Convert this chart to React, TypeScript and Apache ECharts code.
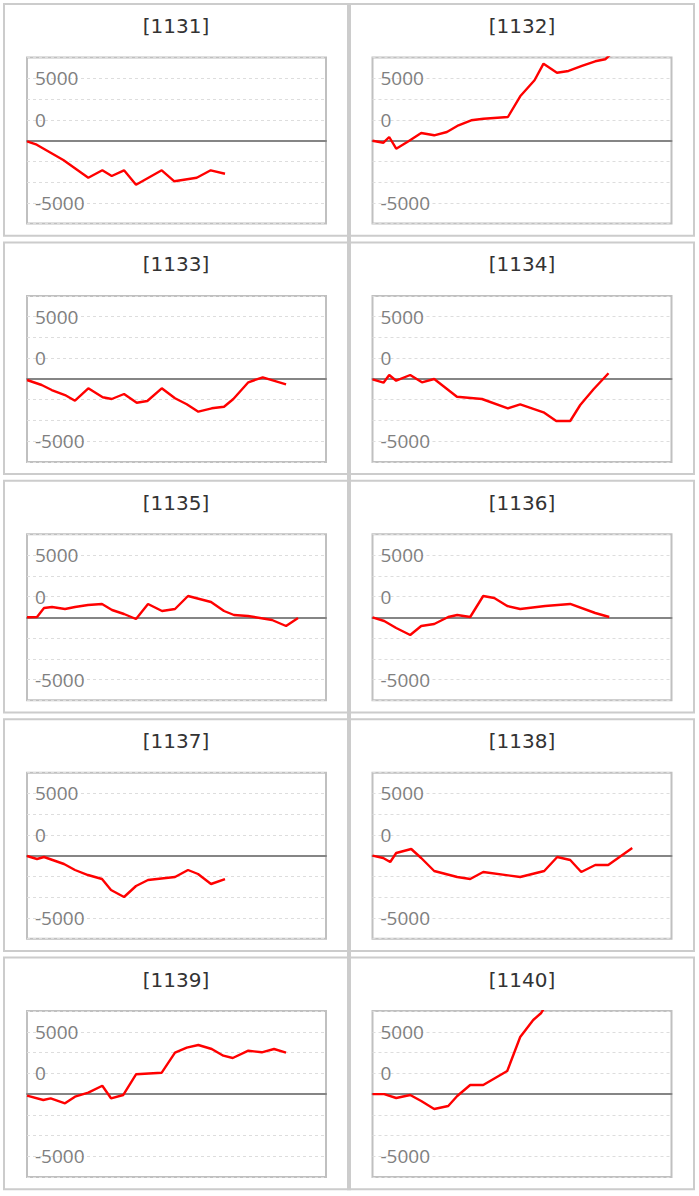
import React, { useEffect, useRef } from "react";
import * as echarts from "echarts";

// machine numbers (panel titles)
const machines = ["1131", "1132", "1133", "1134", "1135", "1136", "1137", "1138", "1139", "1140"];

// y-axis tick labels as printed on the chart, and the gridline they sit on
const yTickValues = [7500, 2500, -7500];
const yTickLabels = ["5000", "0", "-5000"];

// [games, coin difference]
const s1131 = [[0, -100], [260, -506], [971, -2350], [1640, -4483], [2015, -3591], [2267, -4278], [2596, -3591], [2917, -5326], [3605, -3591], [3942, -4916], [4541, -4483], [4916, -3591], [5298, -4001]];
const s1132 = [[0, -24], [294, -265], [447, 422], [634, -988], [963, -96], [1303, 904], [1651, 627], [1991, 1024], [2301, 1832], [2641, 2434], [2970, 2627], [3623, 2832], [3952, 5326], [4335, 7254], [4576, 9254], [4935, 8170], [5245, 8375], [5603, 8977], [5959, 9544], [6227, 9785], [6400, 10500]];
const s1133 = [[0, -133], [393, -735], [661, -1338], [1017, -1940], [1284, -2627], [1640, -1133], [2026, -2217], [2267, -2422], [2596, -1820], [2936, -2868], [3219, -2663], [3605, -1133], [3960, -2338], [4274, -3061], [4584, -3952], [4943, -3543], [5272, -3350], [5521, -2422], [5922, -410], [6307, 193], [6931, -651]];
const s1134 = [[0, -48], [294, -458], [447, 470], [634, -217], [1009, 470], [1322, -410], [1651, -12], [2259, -2145], [2928, -2422], [3623, -3543], [3952, -3061], [4576, -4025], [4916, -5073], [5290, -5073], [5558, -3145], [5914, -1253], [6315, 675]];
const s1135 = [[0, 0], [268, 36], [455, 1121], [669, 1241], [1017, 1000], [1284, 1241], [1632, 1482], [2007, 1603], [2275, 880], [2596, 398], [2917, -205], [3238, 1603], [3613, 759], [3960, 1000], [4308, 2567], [4924, 1844], [5272, 759], [5539, 277], [5914, 157], [6556, -325], [6931, -1048], [7252, -84]];
const s1136 = [[0, 0], [313, -446], [634, -1289], [1009, -2133], [1303, -1048], [1651, -807], [2026, 36], [2267, 277], [2614, 36], [2962, 2567], [3257, 2326], [3605, 1362], [3952, 1000], [4621, 1362], [5290, 1603], [5959, 518], [6334, 36]];
const s1137 = [[0, -36], [268, -398], [455, -157], [990, -1000], [1284, -1723], [1632, -2326], [2007, -2808], [2248, -4133], [2596, -4977], [2917, -3651], [3238, -2928], [3960, -2567], [4308, -1723], [4576, -2205], [4924, -3410], [5298, -2808]];
const s1138 = [[0, 0], [286, -277], [474, -759], [634, 325], [1036, 807], [1303, -277], [1651, -1844], [2267, -2567], [2614, -2808], [2962, -1964], [3952, -2567], [4595, -1844], [4943, -157], [5290, -518], [5585, -1964], [5959, -1121], [6307, -1121], [6950, 928]];
const s1139 = [[0, -193], [436, -711], [634, -506], [1017, -1109], [1284, -313], [1640, 169], [2015, 1012], [2248, -506], [2577, -108], [2917, 2386], [3605, 2579], [3960, 4989], [4274, 5591], [4584, 5917], [4943, 5435], [5253, 4627], [5505, 4350], [5922, 5230], [6281, 5037], [6610, 5435], [6931, 4989]];
const s1140 = [[0, 0], [313, 0], [634, -470], [1009, -108], [1303, -831], [1651, -1795], [2026, -1434], [2267, -229], [2614, 1097], [2962, 1097], [3605, 2784], [3952, 6881], [4300, 8929], [4514, 9773], [4650, 10800]];

const seriesData = [s1131, s1132, s1133, s1134, s1135, s1136, s1137, s1138, s1139, s1140];

const X_MIN = 0;
const X_MAX = 8000;
const Y_MIN = -10000;
const Y_MAX = 10000;
const Y_INTERVAL = 2500;

export default function App() {
  const ref = useRef<HTMLDivElement>(null);

  useEffect(() => {
    if (!ref.current) return;
    const chart = echarts.init(ref.current, null, { renderer: "svg" });

    const colX = [27, 372.5];
    const boxX = [4, 350];
    const rowPitch = 238.4;

    const grids: any[] = [];
    const xAxes: any[] = [];
    const yAxes: any[] = [];
    const series: any[] = [];
    const titles: any[] = [];
    const graphics: any[] = [];

    machines.forEach((m, i) => {
      const c = i % 2;
      const r = Math.floor(i / 2);
      grids.push({
        left: colX[c],
        top: 57.5 + r * rowPitch,
        width: 299,
        height: 166,
        show: true,
        borderColor: "#c0c0c0",
        borderWidth: 2,
        backgroundColor: "transparent",
        containLabel: false,
      });
      xAxes.push({
        type: "value",
        gridIndex: i,
        min: X_MIN,
        max: X_MAX,
        axisLine: { show: true, onZero: true, lineStyle: { color: "#858585", width: 2 } },
        axisTick: { show: false },
        axisLabel: { show: false },
        splitLine: { show: false },
      });
      yAxes.push({
        type: "value",
        gridIndex: i,
        min: Y_MIN,
        max: Y_MAX,
        interval: Y_INTERVAL,
        axisLine: { show: false },
        axisTick: { show: false },
        axisLabel: {
          show: true,
          inside: true,
          margin: 8,
          color: "#808080",
          fontFamily: "Open Sans",
          fontSize: 19,
          padding: [3, 0, 0, 0],
          formatter: (v: number) => {
            const k = yTickValues.indexOf(v);
            return k >= 0 ? yTickLabels[k] : "";
          },
        },
        splitLine: { show: true, lineStyle: { color: "#dddddd", width: 1, type: [3, 3] } },
      });
      series.push({
        type: "line",
        xAxisIndex: i,
        yAxisIndex: i,
        data: seriesData[i],
        showSymbol: false,
        symbol: "none",
        clip: true,
        lineStyle: { color: "#ff0000", width: 2.4 },
        itemStyle: { color: "#ff0000" },
        z: 3,
      });
      titles.push({
        text: "[" + m + "]",
        left: boxX[c] + 172,
        top: 26 + r * rowPitch,
        textAlign: "center",
        textVerticalAlign: "middle",
        padding: 0,
        textStyle: { fontFamily: "DejaVu Sans", fontSize: 20, fontWeight: "normal", color: "#333333" },
      });
      graphics.push({
        type: "rect",
        shape: { x: boxX[c], y: 4 + r * rowPitch, width: 344, height: 231.7 },
        style: { fill: "none", stroke: "#cccccc", lineWidth: 2 },
        silent: true,
        z: 0,
      });
    });
    // vertical separator between the two columns
    graphics.push({
      type: "rect",
      shape: { x: 347, y: 3, width: 4, height: 4 * rowPitch + 233.7 },
      style: { fill: "#cccccc" },
      silent: true,
      z: 0,
    });

    chart.setOption({
      animation: false,
      backgroundColor: "#ffffff",
      title: titles,
      grid: grids,
      xAxis: xAxes,
      yAxis: yAxes,
      series,
      graphic: graphics,
    });

    return () => chart.dispose();
  }, []);

  return (
    <div
      ref={ref}
      style={{ position: "absolute", left: 0, top: 0, width: 699, height: 1196 }}
    />
  );
}
